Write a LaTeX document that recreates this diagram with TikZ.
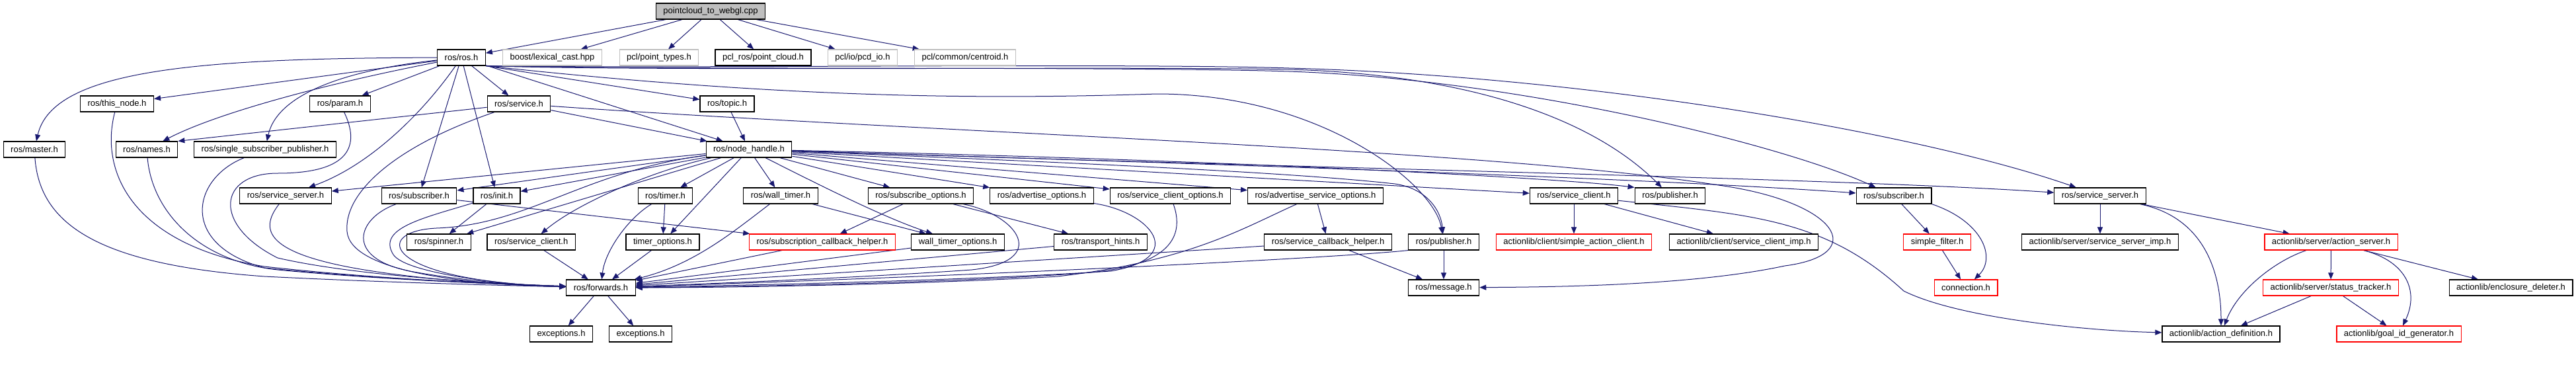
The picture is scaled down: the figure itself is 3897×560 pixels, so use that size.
\documentclass[tikz,border=0pt]{standalone}
\usepackage{fontspec}
\setmainfont{Liberation Sans}
\usetikzlibrary{arrows.meta}
\definecolor{azul}{HTML}{191970}
\definecolor{gris}{HTML}{BFBFBF}
\definecolor{rojo}{HTML}{FF0000}
\pgfdeclarelayer{fondo}
\pgfsetlayers{fondo,main}

\begin{document}
\begin{tikzpicture}[x=1pt,y=-1pt,
  archivo/.style={draw=black,fill=white,line width=1.2pt,minimum height=24pt,
    inner xsep=11pt,inner ysep=0pt,font=\fontsize{13}{15}\selectfont},
  ausente/.style={archivo,draw=gris},
  truncado/.style={archivo,draw=rojo},
  raiz/.style={archivo,fill=gris},
  dep/.style={draw=azul,line width=1pt,-{Triangle[length=10pt,width=8pt]}}]
  \useasboundingbox (0,0) rectangle (3897,560);
  % Archivo raiz
  \node[raiz] (root) at (1075,17) {pointcloud\_to\_webgl.cpp};
  % Fila 1
  \node[archivo] (rosh) at (698,87) {ros/ros.h};
  \node[ausente] (boostlc) at (835.5,87) {boost/lexical\_cast.hpp};
  \node[ausente] (pcltypes) at (997,87) {pcl/point\_types.h};
  \node[archivo] (pclroscloud) at (1154.5,87) {pcl\_ros/point\_cloud.h};
  \node[ausente] (pclpcdio) at (1305,87) {pcl/io/pcd\_io.h};
  \node[ausente] (pclcentroid) at (1460,87) {pcl/common/centroid.h};
  % Fila 2
  \node[archivo] (thisnode) at (177,157) {ros/this\_node.h};
  \node[archivo] (param) at (514.5,157) {ros/param.h};
  \node[archivo] (service) at (785,157) {ros/service.h};
  \node[archivo] (topic) at (1100,157) {ros/topic.h};
  % Fila 3
  \node[archivo] (master) at (52,226) {ros/master.h};
  \node[archivo] (names) at (222,226) {ros/names.h};
  \node[archivo] (ssp) at (401,226) {ros/single\_subscriber\_publisher.h};
  \node[archivo] (nodehandle) at (1133,226) {ros/node\_handle.h};
  % Fila 4
  \node[archivo] (srvserverA) at (432,296) {ros/service\_server.h};
  \node[archivo] (subA) at (634,296) {ros/subscriber.h};
  \node[archivo] (init) at (751.5,296) {ros/init.h};
  \node[archivo] (timer) at (1006.5,296) {ros/timer.h};
  \node[archivo] (walltimer) at (1181,296) {ros/wall\_timer.h};
  \node[archivo] (subopts) at (1393,296) {ros/subscribe\_options.h};
  \node[archivo] (advopts) at (1576,296) {ros/advertise\_options.h};
  \node[archivo] (srvclientopts) at (1770.5,296) {ros/service\_client\_options.h};
  \node[archivo] (advsrvopts) at (1990,296) {ros/advertise\_service\_options.h};
  \node[archivo] (srvclientB) at (2381,296) {ros/service\_client.h};
  \node[archivo] (pubB) at (2526.5,296) {ros/publisher.h};
  \node[archivo] (subB) at (2865,296) {ros/subscriber.h};
  \node[archivo] (srvserverB) at (3177,296) {ros/service\_server.h};
  % Fila 5
  \node[archivo] (spinner) at (664,366) {ros/spinner.h};
  \node[archivo] (srvclientA) at (803.7,366) {ros/service\_client.h};
  \node[archivo] (timeropts) at (1002.5,366) {timer\_options.h};
  \node[truncado] (subcbhelper) at (1244,366) {ros/subscription\_callback\_helper.h};
  \node[archivo] (walltimeropts) at (1449,366) {wall\_timer\_options.h};
  \node[archivo] (transporthints) at (1665,366) {ros/transport\_hints.h};
  \node[archivo] (srvcbhelper) at (2009,366) {ros/service\_callback\_helper.h};
  \node[archivo] (pubA) at (2184,366) {ros/publisher.h};
  \node[truncado] (simpleactclient) at (2381,366) {actionlib/client/simple\_action\_client.h};
  \node[archivo] (srvclientimp) at (2638,366) {actionlib/client/service\_client\_imp.h};
  \node[truncado] (simplefilter) at (2930.5,366) {simple\_filter.h};
  \node[archivo] (srvserverimp) at (3177,366) {actionlib/server/service\_server\_imp.h};
  \node[truncado] (actionserver) at (3526.5,366) {actionlib/server/action\_server.h};
  % Fila 6
  \node[archivo] (forwards) at (909,435) {ros/forwards.h};
  \node[archivo] (message) at (2184,435) {ros/message.h};
  \node[truncado] (connection) at (2974,435) {connection.h};
  \node[truncado] (statustracker) at (3526,435) {actionlib/server/status\_tracker.h};
  \node[archivo] (enclosure) at (3798.5,435) {actionlib/enclosure\_deleter.h};
  % Fila 7
  \node[archivo] (exceptA) at (849,505) {exceptions.h};
  \node[archivo] (exceptB) at (969,505) {exceptions.h};
  \node[archivo] (actiondef) at (3360,505) {actionlib/action\_definition.h};
  \node[truncado] (goalid) at (3629,505) {actionlib/goal\_id\_generator.h};

  \begin{pgfonlayer}{fondo}
  % Desde el archivo raiz
  \draw[dep] (root) -- (rosh);
  \draw[dep] (root) -- (boostlc);
  \draw[dep] (root) -- (pcltypes);
  \draw[dep] (root) -- (pclroscloud);
  \draw[dep] (root) -- (pclpcdio);
  \draw[dep] (root) -- (pclcentroid);
  % Desde ros/ros.h
  \draw[dep] (rosh) .. controls (300,88) and (80,105) .. (master);
  \draw[dep] (rosh) -- (thisnode);
  \draw[dep] (rosh) .. controls (500,125) and (330,170) .. (names);
  \draw[dep] (rosh) .. controls (530,105) and (420,140) .. (ssp);
  \draw[dep] (rosh) -- (param);
  \draw[dep] (rosh) -- (service);
  \draw[dep] (rosh.south east) -- (topic);
  \draw[dep] (rosh) -- (nodehandle);
  \draw[dep] (rosh) .. controls (640,170) and (560,250) .. (srvserverA);
  \draw[dep] (rosh) -- (subA);
  \draw[dep] (rosh) -- (init);
  \draw[dep] (rosh.south east) .. controls (1200,150) and (1500,150) .. (1750,142)
    .. controls (2000,142) and (2170,280) .. (pubA);
  \draw[dep] (rosh.south east) .. controls (1000,108) and (1700,100) .. (1950,105)
    .. controls (2200,112) and (2400,170) .. (pubB);
  \draw[dep] (rosh.south east) .. controls (1000,106) and (1700,100) .. (1950,108)
    .. controls (2300,120) and (2700,220) .. (subB);
  \draw[dep] (rosh.south east) .. controls (1000,104) and (1700,95) .. (1950,103)
    .. controls (2400,115) and (2900,200) .. (srvserverB);
  % Desde ros/service.h y ros/topic.h
  \draw[dep] (service) -- (names.north east);
  \draw[dep] (service) -- (nodehandle);
  \draw[dep] (service) .. controls (600,220) and (520,290) .. (525,350)
    .. controls (530,410) and (700,430) .. (forwards);
  \draw[dep] (service) .. controls (1400,200) and (2250,225) .. (2600,280)
    .. controls (2780,305) and (2830,385) .. (2700,402)
    .. controls (2560,432) and (2350,434) .. (message);
  \draw[dep] (topic) -- (nodehandle);
  % Desde ros/node_handle.h
  \draw[dep] (nodehandle) -- (srvserverA);
  \draw[dep] (nodehandle) -- (subA);
  \draw[dep] (nodehandle) -- (init);
  \draw[dep] (nodehandle) -- (spinner);
  \draw[dep] (nodehandle) .. controls (980,260) and (870,310) .. (srvclientA);
  \draw[dep] (nodehandle) -- (timer);
  \draw[dep] (nodehandle) -- (timeropts);
  \draw[dep] (nodehandle) -- (walltimer);
  \draw[dep] (nodehandle) .. controls (1250,285) and (1340,330) .. (walltimeropts);
  \draw[dep] (nodehandle) -- (subopts);
  \draw[dep] (nodehandle) -- (advopts);
  \draw[dep] (nodehandle) -- (srvclientopts);
  \draw[dep] (nodehandle) -- (advsrvopts);
  \draw[dep] (nodehandle) .. controls (1600,245) and (1950,260) .. (2110,278)
    .. controls (2160,285) and (2180,320) .. (pubA);
  \draw[dep] (nodehandle) -- (srvclientB);
  \draw[dep] (nodehandle) .. controls (1800,240) and (2350,268) .. (pubB.north west);
  \draw[dep] (nodehandle) .. controls (1900,250) and (2500,270) .. (subB);
  \draw[dep] (nodehandle) .. controls (2000,255) and (2800,270) .. (srvserverB);
  \draw[dep] (nodehandle) .. controls (880,260) and (800,340) .. (660,345)
    .. controls (560,350) and (580,425) .. (forwards);
  % Hacia ros/forwards.h por la izquierda
  \draw[dep] (master) .. controls (60,340) and (150,400) .. (400,418)
    .. controls (600,428) and (780,432) .. (forwards);
  \draw[dep] (thisnode) .. controls (150,260) and (200,370) .. (400,403)
    .. controls (600,425) and (780,430) .. (forwards);
  \draw[dep] (names) .. controls (230,320) and (300,395) .. (420,408)
    .. controls (600,425) and (780,430) .. (forwards);
  \draw[dep] (ssp) .. controls (290,270) and (270,370) .. (400,405)
    .. controls (600,425) and (780,430) .. (forwards);
  \draw[dep] (param) .. controls (545,220) and (530,262) .. (420,262)
    .. controls (330,262) and (320,340) .. (420,390)
    .. controls (550,420) and (780,430) .. (forwards);
  \draw[dep] (srvserverA) .. controls (390,350) and (400,390) .. (600,415)
    .. controls (700,428) and (800,432) .. (forwards);
  \draw[dep] (subA) .. controls (540,330) and (520,390) .. (620,410)
    .. controls (700,425) and (800,432) .. (forwards);
  \draw[dep] (init) .. controls (640,330) and (570,345) .. (595,385)
    .. controls (615,415) and (780,432) .. (forwards);
  \draw[dep] (init) -- (spinner);
  \draw[dep] (srvclientA) -- (forwards);
  \draw[dep] (timer) -- (timeropts);
  \draw[dep] (timer) .. controls (950,330) and (915,380) .. (forwards);
  \draw[dep] (timeropts) -- (forwards);
  \draw[dep] (subA) -- (subcbhelper);
  % Hacia ros/forwards.h por la derecha
  \draw[dep] (walltimer) -- (walltimeropts);
  \draw[dep] (walltimer) .. controls (1110,350) and (1050,400) .. (forwards);
  \draw[dep] (subcbhelper) -- (forwards);
  \draw[dep] (walltimeropts) -- (forwards);
  \draw[dep] (subopts) -- (subcbhelper);
  \draw[dep] (subopts) -- (transporthints);
  \draw[dep] (subopts) .. controls (1540,325) and (1590,395) .. (1470,408)
    .. controls (1300,420) and (1050,430) .. (forwards);
  \draw[dep] (transporthints) -- (forwards);
  \draw[dep] (advopts) .. controls (1740,320) and (1800,390) .. (1680,410)
    .. controls (1450,425) and (1100,432) .. (forwards);
  \draw[dep] (srvclientopts) .. controls (1790,350) and (1780,400) .. (1650,412)
    .. controls (1450,428) and (1100,434) .. (forwards);
  \draw[dep] (advsrvopts) .. controls (1880,345) and (1800,395) .. (1600,418)
    .. controls (1400,430) and (1100,435) .. (forwards);
  \draw[dep] (advsrvopts) -- (srvcbhelper);
  \draw[dep] (srvcbhelper) -- (forwards);
  \draw[dep] (srvcbhelper) -- (message);
  \draw[dep] (pubA.south west) .. controls (2000,392) and (1400,420) .. (forwards);
  \draw[dep] (pubA) -- (message);
  \draw[dep] (forwards) -- (exceptA);
  \draw[dep] (forwards) -- (exceptB);
  % Rama de actionlib
  \draw[dep] (srvclientB) -- (simpleactclient);
  \draw[dep] (srvclientB) -- (srvclientimp);
  \draw[dep] (srvclientB) .. controls (2650,325) and (2760,330) .. (2880,440)
    .. controls (2960,480) and (3150,500) .. (actiondef);
  \draw[dep] (subB) -- (simplefilter);
  \draw[dep] (subB.south east) .. controls (3000,335) and (3020,390) .. (connection);
  \draw[dep] (simplefilter) -- (connection);
  \draw[dep] (srvserverB) -- (srvserverimp);
  \draw[dep] (srvserverB) .. controls (3340,330) and (3360,420) .. (actiondef);
  \draw[dep] (srvserverB) -- (actionserver);
  \draw[dep] (actionserver) .. controls (3440,395) and (3385,440) .. (actiondef);
  \draw[dep] (actionserver) -- (statustracker);
  \draw[dep] (actionserver) .. controls (3640,395) and (3660,440) .. (goalid);
  \draw[dep] (actionserver) -- (enclosure);
  \draw[dep] (statustracker) -- (actiondef);
  \draw[dep] (statustracker) -- (goalid);
  \end{pgfonlayer}
\end{tikzpicture}
\end{document}
